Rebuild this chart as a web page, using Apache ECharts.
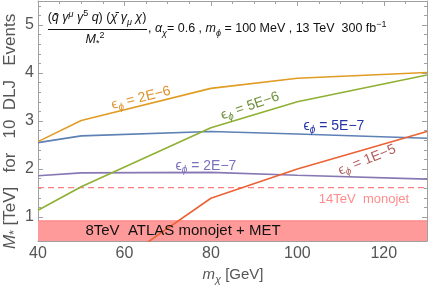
<!DOCTYPE html>
<html><head><meta charset="utf-8">
<script src="https://cdn.jsdelivr.net/npm/echarts@6/dist/echarts.min.js"></script>
<style>html,body{margin:0;padding:0;background:#fff}#c{width:428px;height:292px}</style>
</head><body><div id="c"></div>
<script>
// ---- data ----
const mChi = [40, 50, 80, 100, 130];
const eps2Em6 = [2.57, 3.01, 3.68, 3.89, 4.01];
const eps5Em7 = [2.55, 2.69, 2.78, 2.73, 2.64];
const eps2Em7 = [1.86, 1.92, 1.93, 1.87, 1.79];
const eps5Em6 = [1.14, 1.63, 2.86, 3.40, 3.96];
const mChiRed = [60, 80, 100, 130];
const eps1Em5 = [0.14, 1.39, 2.00, 2.78];
const monojet14 = 1.61;
const atlas8 = 0.92;
const xRange = [40, 130];
const yRange = [0.5, 5.5];
const xTicks = [40, 60, 80, 100, 120];
const xMinorTicks = [45, 50, 55, 65, 70, 75, 85, 90, 95, 105, 110, 115, 125];
const yTicks = [1, 2, 3, 4, 5];
const yMinorTicks = [0.6, 0.8, 1.2, 1.4, 1.6, 1.8, 2.2, 2.4, 2.6, 2.8, 3.2, 3.4, 3.6, 3.8, 4.2, 4.4, 4.6, 4.8, 5.2, 5.4];

const FF = '"Liberation Sans", Arial, "DejaVu Sans", sans-serif';
const frameColor = '#a0a0a0';
const labelColor = '#555';

function pairs(xs, ys) { return xs.map((x, i) => [x, ys[i]]); }

function xAx(pos, major, labels) {
  return {
    type: 'value', min: xRange[0], max: xRange[1], position: pos,
    axisLine: { show: major, onZero: false, lineStyle: { color: frameColor, width: 1 } },
    axisTick: { show: true, inside: true, length: major ? 5 : 3, customValues: major ? xTicks : xMinorTicks,
      lineStyle: { color: frameColor, width: 1 } },
    axisLabel: { show: labels, customValues: xTicks, color: labelColor, fontSize: 16, fontFamily: FF, margin: 5 },
    splitLine: { show: false }
  };
}
function yAx(pos, major, labels) {
  return {
    type: 'value', min: yRange[0], max: yRange[1], position: pos,
    axisLine: { show: major, onZero: false, lineStyle: { color: frameColor, width: 1 } },
    axisTick: { show: true, inside: true, length: major ? 5 : 3, customValues: major ? yTicks : yMinorTicks,
      lineStyle: { color: frameColor, width: 1 } },
    axisLabel: { show: labels, customValues: yTicks, color: labelColor, fontSize: 16, fontFamily: FF, margin: 4 },
    splitLine: { show: false }
  };
}

function line(name, data, color, extra) {
  return Object.assign({
    name, type: 'line', data, showSymbol: false, symbol: 'none', silent: true,
    lineStyle: { color, width: 1.6 }, z: 5, animation: false
  }, extra || {});
}

// rich text helpers
function rich(size, color) {
  const p = Math.round(size * 0.6);
  return {
    n: { fontSize: size, fontFamily: FF, fill: color, verticalAlign: 'middle' },
    i: { fontSize: size, fontFamily: FF, fontStyle: 'italic', fill: color, verticalAlign: 'middle' },
    p: { fontSize: Math.round(size * 0.7), fontFamily: FF, fontStyle: 'italic', fill: color, verticalAlign: 'top', padding: [0, 0, p, 0] },
    pn: { fontSize: Math.round(size * 0.7), fontFamily: FF, fill: color, verticalAlign: 'top', padding: [0, 0, p, 0] },
    b: { fontSize: Math.round(size * 0.7), fontFamily: FF, fontStyle: 'italic', fill: color, verticalAlign: 'bottom', padding: [p, 0, 0, 0] },
    bn: { fontSize: Math.round(size * 0.7), fontFamily: FF, fill: color, verticalAlign: 'bottom', padding: [p, 0, 0, 0] }
  };
}
function txt(x, y, text, size, color, rotDeg, align) {
  return {
    type: 'text', x, y, rotation: (rotDeg || 0) * Math.PI / 180, z: 20,
    style: { text, fill: color, align: align || 'center', verticalAlign: 'middle',
      fontSize: size, fontFamily: FF, rich: rich(size, color) }
  };
}
function epsLabel(x, y, val, color, rot) {
  return txt(x, y, '{n|\u03f5}{b|\u03d5}{n| = ' + val + '}', 14, color, rot);
}

const chart = echarts.init(document.getElementById('c'), null, { renderer: 'canvas' });
chart.setOption({
  animation: false,
  grid: { left: 38, right: 1, top: 1, bottom: 51, containLabel: false },
  xAxis: [xAx('bottom', true, true), xAx('bottom', false, false), xAx('top', true, false), xAx('top', false, false)],
  yAxis: [yAx('left', true, true), yAx('left', false, false), yAx('right', true, false), yAx('right', false, false)],
  series: [
    line('atlas8', [[xRange[0], atlas8], [xRange[1], atlas8]], '#ff7f7f',
      { areaStyle: { color: '#ff9a9a', opacity: 1, origin: 'start' }, lineStyle: { color: '#ff7f7f', width: 1 }, z: 2 }),
    line('monojet14', [[xRange[0], monojet14], [xRange[1], monojet14]], '#ff8080',
      { lineStyle: { color: '#ff8080', width: 1.3, type: [6, 4] }, z: 3 }),
    line('eps2Em7', pairs(mChi, eps2Em7), '#8778b3'),
    line('eps5Em7', pairs(mChi, eps5Em7), '#5e81b5'),
    line('eps2Em6', pairs(mChi, eps2Em6), '#e19c24'),
    line('eps5Em6', pairs(mChi, eps5Em6), '#8fb032'),
    line('eps1Em5', pairs(mChiRed, eps1Em5), '#eb6235')
  ],
  graphic: [
    // formula
    txt(97, 18, '{n|(}{i|q\u0304 \u03b3}{p|\u03bc}{i| \u03b3}{pn|5}{i| q}{n|) (}{i|\u03c7\u0304 \u03b3}{b|\u03bc}{i| \u03c7}{n|)}', 12.5, '#111'),
    { type: 'line', shape: { x1: 48, y1: 29.5, x2: 147, y2: 29.5 }, style: { stroke: '#111', lineWidth: 1 }, z: 20 },
    txt(95, 40, '{i|M}{bn|*}{pn|2}', 12.5, '#111'),
    txt(148, 29, '{n|, }{i|\u03b1}{b|\u03c7}{n|= 0.6 , }{i|m}{b|\u03d5}{n| = 100 MeV , 13 TeV  300 fb}{pn|\u22121}', 12.5, '#111', 0, 'left'),
    // axis names
    txt(10, 249, '{i|M}{bn|*}{n| [TeV]   for   10  DLJ   Events}', 17, labelColor, 90, 'left'),
    txt(233, 275, '{i|m}{b|\u03c7}{n| [GeV]}', 15, labelColor),
    // curve labels
    epsLabel(141, 98, '2E\u22126', '#e0922a', 14),
    epsLabel(250, 106, '5E\u22126', '#6f8f3a', 19),
    epsLabel(334, 126, '5E\u22127', '#2634a8', 0),
    epsLabel(206, 166, '2E\u22127', '#7a70c0', 0),
    epsLabel(367, 160, '1E\u22125', '#b35a5a', 22),
    txt(364, 199, '{n|14TeV  monojet}', 13, '#ff8c8c'),
    txt(183, 231, '{n|8TeV  ATLAS monojet + MET}', 15, '#111')
  ]
});
</script></body></html>
